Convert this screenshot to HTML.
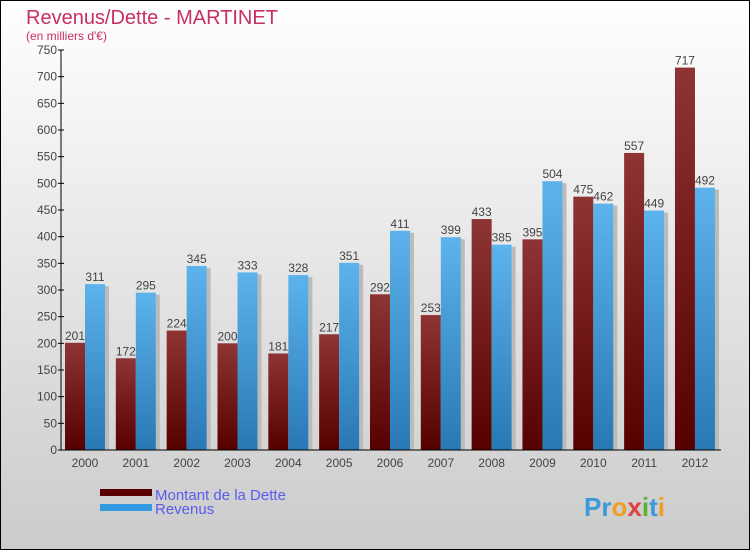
<!DOCTYPE html>
<html><head><meta charset="utf-8"><style>
body{margin:0}
#c{width:748px;height:548px;border:1px solid #000;background:linear-gradient(#fff,#cbcbcb);position:relative;font-family:"Liberation Sans",sans-serif}
</style></head><body>
<div id="c">
<svg id="s" width="748" height="548">
<defs>
<linearGradient id="gd" x1="0" y1="0" x2="0" y2="1"><stop offset="0" stop-color="#8e3434"/><stop offset="1" stop-color="#560000"/></linearGradient>
<linearGradient id="gr" x1="0" y1="0" x2="0" y2="1"><stop offset="0" stop-color="#5db3ec"/><stop offset="1" stop-color="#2878b4"/></linearGradient>
</defs>
<text x="25" y="23" font-size="20" fill="#c8305f">Revenus/Dette - MARTINET</text>
<text x="25" y="39" font-size="12" fill="#c8305f">(en milliers d'€)</text>
<g id="g"></g>
<rect x="99" y="488" width="52" height="7" fill="#5a0000"/>
<rect x="99" y="503" width="52" height="7" fill="#3399e0"/>
<text x="154" y="499" font-size="15" fill="#5a5af0">Montant de la Dette</text>
<text x="154" y="513" font-size="15" fill="#5a5af0">Revenus</text>
<text x="583" y="515" font-size="26" font-weight="bold" fill="#3a9ad8">Pr<tspan fill="#f0a020">o</tspan><tspan fill="#e04040">x</tspan><tspan fill="#60b030">i</tspan>t<tspan fill="#f0a020">i</tspan></text>
</svg>
</div>
<script>
const years=["2000","2001","2002","2003","2004","2005","2006","2007","2008","2009","2010","2011","2012"];
const dette=[201,172,224,200,181,217,292,253,433,395,475,557,717];
const revenus=[311,295,345,333,328,351,411,399,385,504,462,449,492];
const yTicks=[0,50,100,150,200,250,300,350,400,450,500,550,600,650,700,750];
const NS="http://www.w3.org/2000/svg",g=document.getElementById('g');
const y=v=>449-v*400/750, x=i=>84+i*50.83;
function el(t,a){const e=document.createElementNS(NS,t);for(const k in a)e.setAttribute(k,a[k]);g.appendChild(e);return e;}
years.forEach((yr,i)=>{
 const c=x(i);
 let r=el('rect',{x:c+20,y:y(revenus[i])+2,width:4,height:449-y(revenus[i])-2,fill:'#bbb'});
 
 
 let b=el('rect',{x:c-20,y:y(dette[i]),width:20,height:449-y(dette[i]),fill:'url(#gd)'});
 
 
 let b2=el('rect',{x:c,y:y(revenus[i]),width:20,height:449-y(revenus[i]),fill:'url(#gr)'});
 
 
 let t=el('text',{x:c-10,y:y(dette[i])-3,'font-size':12,'text-anchor':'middle',fill:'#444'});t.textContent=dette[i];
 
 
 let t2=el('text',{x:c+10,y:y(revenus[i])-3,'font-size':12,'text-anchor':'middle',fill:'#444'});t2.textContent=revenus[i];
 
 
 let xl=el('text',{x:c,y:466,'font-size':12,'text-anchor':'middle',fill:'#444'});xl.textContent=yr;
 
 
});
yTicks.forEach(v=>{
 let l=el('line',{x1:57,x2:63,y1:y(v),y2:y(v),stroke:'#000'});
 
 
 let t=el('text',{x:56,y:y(v)+4,'font-size':12,'text-anchor':'end',fill:'#444'});t.textContent=v;
 
 
});
let ax=el('line',{x1:60,x2:60,y1:y(750),y2:449,stroke:'#000'});


let axx=el('line',{x1:60,x2:720,y1:449,y2:449,stroke:'#000'});


</script>
</body></html>
